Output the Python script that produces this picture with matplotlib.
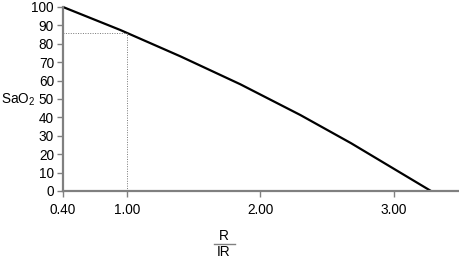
import matplotlib
matplotlib.use("Agg")
import matplotlib.pyplot as plt
from matplotlib.lines import Line2D

# curve (R/IR ratio vs SaO2 %)
ratio = [0.52, 0.95, 1.40, 1.85, 2.30, 2.68, 3.28]
sao2 = [100, 87.5, 73.2, 58.0, 41.3, 26.0, 0]

ref_ratio = 1.00
ref_sao2 = 86

x_ticks = [0.52, 1.00, 2.00, 3.00]
x_tick_labels = ["0.40", "1.00", "2.00", "3.00"]
y_ticks = [0, 10, 20, 30, 40, 50, 60, 70, 80, 90, 100]

plt.rcParams["font.family"] = ["Liberation Sans", "DejaVu Sans"]
plt.rcParams["mathtext.fontset"] = "custom"
plt.rcParams["mathtext.rm"] = "Liberation Sans"
plt.rcParams["mathtext.it"] = "Liberation Sans"
plt.rcParams["mathtext.default"] = "rm"

fs = 9.8

fig = plt.figure(figsize=(4.59, 2.59), dpi=100)
ax = fig.add_axes([63 / 459, 1 - 191 / 259, 1 - 63 / 459, (191 - 7) / 259])

ax.plot(ratio, sao2, color="black", lw=1.6, solid_capstyle="butt", clip_on=False)
ax.plot([ratio[0], ref_ratio], [ref_sao2, ref_sao2], color="#777777", lw=0.7, ls=(0, (1, 1.5)))
ax.plot([ref_ratio, ref_ratio], [0, ref_sao2], color="#777777", lw=0.7, ls=(0, (1, 1.5)))

ax.set_xlim(0.52, 3.49)
ax.set_ylim(0, 100)
ax.set_xticks(x_ticks)
ax.set_xticklabels(x_tick_labels)
ax.set_yticks(y_ticks)

for s in ["top", "right"]:
    ax.spines[s].set_visible(False)
for s in ["left", "bottom"]:
    ax.spines[s].set_color("#808080")
    ax.spines[s].set_linewidth(1.6)

ax.tick_params(axis="both", colors="#808080", labelcolor="black", length=4.5, width=1, labelsize=fs)
ax.tick_params(axis="x", pad=4)
ax.tick_params(axis="y", pad=2)

fig.text(1 / 459, 1 - 100 / 259, "SaO$_2$", fontsize=fs, va="center", ha="left")

# R over IR fraction under the x axis
fig.text(224 / 459, 1 - 236 / 259, "R", fontsize=fs, ha="center", va="center")
fig.text(224 / 459, 1 - 252 / 259, "IR", fontsize=fs, ha="center", va="center")
fig.add_artist(Line2D([214 / 459, 235 / 459], [1 - 244 / 259, 1 - 244 / 259],
                      color="#808080", lw=1, transform=fig.transFigure))

fig.savefig("out.png", dpi=100)
